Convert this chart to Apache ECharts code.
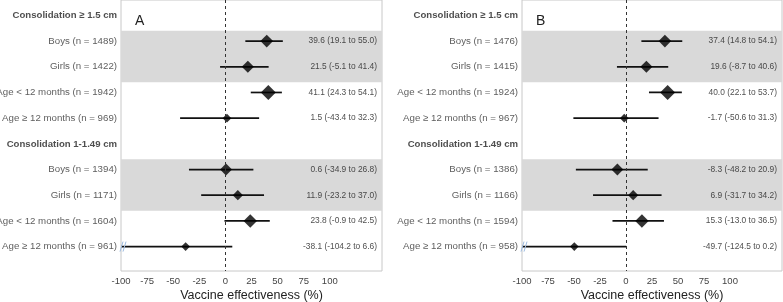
<!DOCTYPE html>
<html>
<head>
<meta charset="utf-8">
<script src="https://cdn.jsdelivr.net/npm/echarts@6/dist/echarts.min.js"></script>
<style>
  html, body { margin: 0; padding: 0; background: #fff; }
  #chart { width: 783px; height: 302px; }
</style>
</head>
<body>
<div id="chart"></div>
<script>
// rows, top to bottom (headers have no n)
const rowNames = ['Consolidation ≥ 1.5 cm', 'Boys', 'Girls', 'Age < 12 months', 'Age ≥ 12 months',
  'Consolidation 1-1.49 cm', 'Boys', 'Girls', 'Age < 12 months', 'Age ≥ 12 months']
const shadedRows = [1, 2, 6, 7]

// panel A
const nA = [null, 1489, 1422, 1942, 969, null, 1394, 1171, 1604, 961]
const estA = [null, 39.6, 21.5, 41.1, 1.5, null, 0.6, 11.9, 23.8, -38.1]
const loA = [null, 19.1, -5.1, 24.3, -43.4, null, -34.9, -23.2, -0.9, -104.2]
const hiA = [null, 55.0, 41.4, 54.1, 32.3, null, 26.8, 37.0, 42.5, 6.6]

// panel B
const nB = [null, 1476, 1415, 1924, 967, null, 1386, 1166, 1594, 958]
const estB = [null, 37.4, 19.6, 40.0, -1.7, null, -8.3, 6.9, 15.3, -49.7]
const loB = [null, 14.8, -8.7, 22.1, -50.6, null, -48.2, -31.7, -13.0, -124.5]
const hiB = [null, 54.1, 40.6, 53.7, 31.3, null, 20.9, 34.2, 36.5, 0.2]

const xTicks = [-100, -75, -50, -25, 0, 25, 50, 75, 100]

const FONT = 'Liberation Sans, Arial, sans-serif'
const X_MIN = -100, X_MAX = 150

const chart = echarts.init(document.getElementById('chart'))

function markerSize(n) { return Math.min(15, 0.0075 * n + 1.5) }

function buildPanel(idx, n, est, lo, hi) {
  const rows = rowNames.map((_, i) => i)
  const ciData = rows.filter(i => est[i] != null).map(i => [lo[i], hi[i], i])
  const ptData = rows.filter(i => est[i] != null).map(i => ({ value: [est[i], i], symbolSize: markerSize(n[i]) }))
  const nameData = rows.map(i => ({
    value: [X_MIN, i],
    label: n[i] == null
      ? { fontWeight: 'bold', color: '#222', fontSize: 9.6 }
      : { fontWeight: 'normal', color: '#333', fontSize: 9.7 },
  }))
  const valData = rows.filter(i => est[i] != null).map(i => [X_MAX, i])

  const bands = []
  for (let k = 0; k < shadedRows.length; k += 2) {
    bands.push([{ yAxis: shadedRows[k] - 0.4 }, { yAxis: shadedRows[k + 1] + 0.6 }])
  }

  return [
    {
      type: 'line', xAxisIndex: idx, yAxisIndex: idx, data: [], z: 1, silent: true,
      markArea: { silent: true, itemStyle: { color: '#d9d9d9' }, data: bands },
    },
    {
      type: 'line', xAxisIndex: idx, yAxisIndex: idx, data: [], z: 2, silent: true,
      markLine: {
        silent: true, symbol: 'none', label: { show: false },
        lineStyle: { color: '#333', type: [3, 3], width: 1 },
        data: [{ xAxis: 0 }],
      },
    },
    {
      type: 'custom', xAxisIndex: idx, yAxisIndex: idx, z: 3, silent: true,
      data: ciData,
      encode: { x: [0, 1], y: 2 },
      renderItem(params, api) {
        const row = api.value(2)
        const l = api.value(0)
        const a = api.coord([Math.max(l, X_MIN), row])
        const b = api.coord([api.value(1), row])
        const children = [{
          type: 'line',
          shape: { x1: a[0], y1: a[1], x2: b[0], y2: b[1] },
          style: { stroke: '#111', lineWidth: 1.7 },
        }]
        if (l < X_MIN) {
          // axis break marks
          ;[0, 3].forEach(dx => children.push({
            type: 'line',
            shape: { x1: a[0] - 1 + dx, y1: a[1] + 5, x2: a[0] + 2 + dx, y2: a[1] - 5 },
            style: { stroke: '#9dbbe0', lineWidth: 1 },
          }))
        }
        return { type: 'group', children }
      },
    },
    {
      type: 'scatter', xAxisIndex: idx, yAxisIndex: idx, z: 4, silent: true,
      symbol: 'diamond', itemStyle: { color: '#000' },
      data: ptData,
    },
    {
      type: 'scatter', xAxisIndex: idx, yAxisIndex: idx, z: 5, silent: true, clip: false,
      symbolSize: 0, data: nameData,
      label: {
        show: true, position: 'left', distance: 4, fontFamily: FONT,
        formatter: p => {
          const i = p.value[1]
          return n[i] == null ? rowNames[i] : `${rowNames[i]} (n = ${n[i]})`
        },
      },
    },
    {
      type: 'scatter', xAxisIndex: idx, yAxisIndex: idx, z: 5, silent: true, clip: false,
      symbolSize: 0, data: valData,
      label: {
        show: true, position: 'left', distance: 5, fontFamily: FONT, fontSize: 8.4, color: '#222',
        formatter: p => {
          const i = p.value[1]
          return `${est[i].toFixed(1)} (${lo[i].toFixed(1)} to ${hi[i].toFixed(1)})`
        },
      },
    },
  ]
}

const grids = [
  { left: 121, top: 0, width: 261, height: 271 },
  { left: 522, top: 0, width: 260, height: 271 },
]

function xAxisFor(i) {
  return {
    type: 'value', gridIndex: i, min: X_MIN, max: X_MAX, interval: 25,
    axisLine: { show: false }, axisTick: { show: false }, splitLine: { show: false },
    axisLabel: {
      fontFamily: FONT, fontSize: 9.5, color: '#444', margin: 5,
      formatter: v => (xTicks.includes(v) ? String(v) : ''),
    },
    name: 'Vaccine effectiveness (%)', nameLocation: 'middle', nameGap: 18, nameMoveOverlap: false,
    nameTextStyle: { fontFamily: FONT, fontSize: 12.5, color: '#222' },
  }
}

function yAxisFor(i) {
  return {
    type: 'value', gridIndex: i, min: -0.6, max: 9.95, inverse: true,
    show: false, splitLine: { show: false },
  }
}

chart.setOption({
  animation: false,
  backgroundColor: '#fff',
  title: [
    { text: 'A', left: 130, top: 9, textStyle: { fontFamily: FONT, fontSize: 14, fontWeight: 'normal', color: '#222' } },
    { text: 'B', left: 531, top: 9, textStyle: { fontFamily: FONT, fontSize: 14, fontWeight: 'normal', color: '#222' } },
  ],
  grid: grids.map(g => ({
    ...g, show: true, borderColor: '#c8c8c8', borderWidth: 1, backgroundColor: 'transparent',
    outerBoundsMode: 'none', containLabel: false,
  })),
  xAxis: [xAxisFor(0), xAxisFor(1)],
  yAxis: [yAxisFor(0), yAxisFor(1)],
  series: [
    ...buildPanel(0, nA, estA, loA, hiA),
    ...buildPanel(1, nB, estB, loB, hiB),
  ],
})
</script>
</body>
</html>
